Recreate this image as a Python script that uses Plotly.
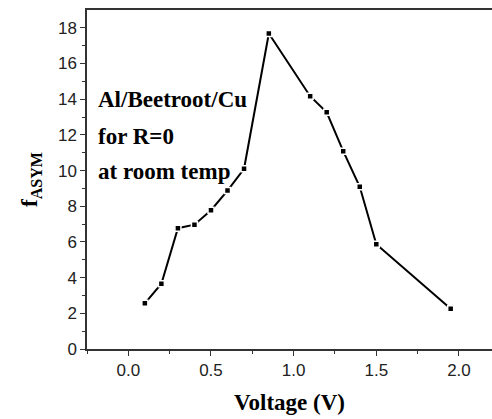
import plotly.graph_objects as go

voltage = [0.1, 0.2, 0.3, 0.4, 0.5, 0.6, 0.7, 0.85, 1.1, 1.2, 1.3, 1.4, 1.5, 1.95]
f_asym = [2.56, 3.66, 6.77, 6.97, 7.78, 8.88, 10.1, 17.68, 14.17, 13.27, 11.09, 9.09, 5.87, 2.26]
label_lines = ["Al/Beetroot/Cu", "for R=0", "at room temp"]
label_y = [13.97, 11.89, 9.93]

SERIF = "Times New Roman, Liberation Serif, DejaVu Serif, serif"
SANS = "Arial, Liberation Sans, sans-serif"

fig = go.Figure()
fig.add_trace(go.Scatter(
    x=voltage, y=f_asym, mode="lines+markers",
    line=dict(color="black", width=2),
    marker=dict(symbol="square", size=6, color="black",
                line=dict(color="white", width=1.5)),
    showlegend=False,
))

for txt, yy in zip(label_lines, label_y):
    fig.add_annotation(
        x=0.022, xref="paper", y=yy, yref="y", text="<b>%s</b>" % txt,
        showarrow=False, xanchor="left", yanchor="middle",
        font=dict(family=SERIF, size=23, color="black"),
    )

axis_common = dict(
    showgrid=False, zeroline=False, showline=True, linecolor="#333333",
    linewidth=1.5, ticks="outside", ticklen=5, tickwidth=1.2, tickcolor="#333333",
    tickfont=dict(family=SANS, size=17, color="#222222"),
)

fig.update_layout(
    width=492, height=419,
    margin=dict(l=87, r=0, t=10, b=70),
    paper_bgcolor="white", plot_bgcolor="white",
    xaxis=dict(
        range=[-0.25, 2.2], tickmode="array",
        tickvals=[0.0, 0.5, 1.0, 1.5, 2.0],
        ticktext=["0.0", "0.5", "1.0", "1.5", "2.0"],
        minor=dict(tickvals=[-0.25, 0.25, 0.75, 1.25, 1.75], ticks="outside",
                   ticklen=3, tickcolor="#333333"),
        title=dict(text="<b>Voltage (V)</b>", standoff=15,
                   font=dict(family=SERIF, size=23, color="black")),
        mirror=True,
        **axis_common,
    ),
    yaxis=dict(
        range=[0, 19], tickmode="array",
        tickvals=list(range(0, 19, 2)),
        minor=dict(tickvals=list(range(1, 19, 2)), ticks="outside",
                   ticklen=3, tickcolor="#333333"),
        title=dict(text="<b>f<sub>ASYM</sub></b>", standoff=14,
                   font=dict(family=SERIF, size=23, color="black")),
        mirror=False,
        **axis_common,
    ),
)

fig.write_html("out.html")
